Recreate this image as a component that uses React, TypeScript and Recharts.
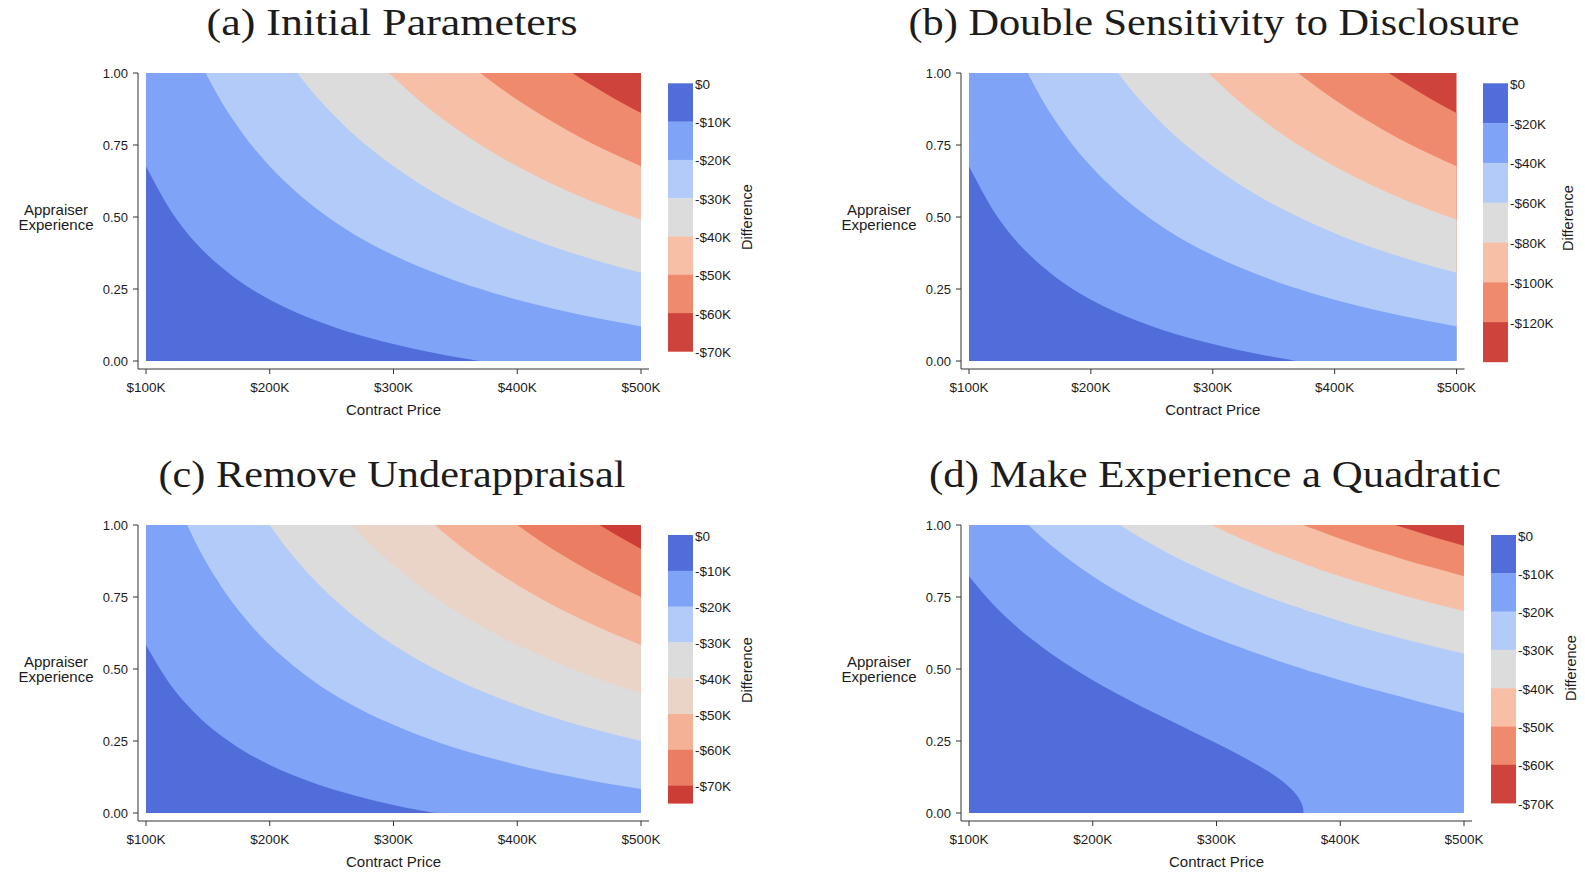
import { Area, AreaChart, XAxis, YAxis } from "recharts";

// contract price grid ($K); extra rows sit where a contour meets the frame
const aPrice = [100, 120, 140, 150, 160, 180, 200, 220, 240, 260, 280, 300, 320, 340, 360, 370, 380, 400, 420, 440, 460, 480, 500];
const cPrice = [100, 120, 130, 140, 160, 180, 200, 220, 240, 260, 270, 280, 300, 320, 330, 340, 360, 380, 400, 420, 440, 460, 480, 500];
const dPrice = [100, 120, 140, 150, 160, 180, 200, 220, 240, 260, 280, 300, 320, 340, 350, 360, 365, 368, 370, 370.4, 380, 400, 420, 440, 460, 480, 500];

// appraiser experience along each contour line (lowest level first).
// values above 1 continue the line just past the top of the frame and get clipped.
const aEdge1 = [0.676, 0.522, 0.411, 0.367, 0.329, 0.264, 0.213, 0.171, 0.136, 0.106, 0.081, 0.059, 0.039, 0.022, 0.007, 0, 0, 0, 0, 0, 0, 0, 0];
const aEdge2 = [1.5, 1.293, 1.073, 0.985, 0.907, 0.779, 0.676, 0.592, 0.522, 0.462, 0.411, 0.367, 0.329, 0.295, 0.264, 0.251, 0.237, 0.213, 0.191, 0.171, 0.153, 0.136, 0.12];
const aEdge3 = [1.5, 1.5, 1.5, 1.5, 1.486, 1.293, 1.139, 1.013, 0.907, 0.818, 0.742, 0.676, 0.618, 0.567, 0.522, 0.501, 0.481, 0.444, 0.411, 0.381, 0.354, 0.329, 0.306];
const aEdge4 = [1.5, 1.5, 1.5, 1.5, 1.5, 1.5, 1.5, 1.434, 1.293, 1.175, 1.073, 0.985, 0.907, 0.839, 0.779, 0.751, 0.725, 0.676, 0.632, 0.592, 0.555, 0.522, 0.491];
const aEdge5 = [1.5, 1.5, 1.5, 1.5, 1.5, 1.5, 1.5, 1.5, 1.5, 1.5, 1.403, 1.293, 1.197, 1.112, 1.036, 1.001, 0.968, 0.907, 0.852, 0.802, 0.756, 0.715, 0.676];
const aEdge6 = [1.5, 1.5, 1.5, 1.5, 1.5, 1.5, 1.5, 1.5, 1.5, 1.5, 1.5, 1.5, 1.486, 1.384, 1.293, 1.252, 1.212, 1.139, 1.073, 1.013, 0.958, 0.907, 0.861];

// panel (b) has the same shapes as (a), only the levels double
const bEdges = [aEdge1, aEdge2, aEdge3, aEdge4, aEdge5, aEdge6];

const cEdge1 = [0.583, 0.444, 0.391, 0.345, 0.271, 0.213, 0.167, 0.129, 0.097, 0.071, 0.059, 0.048, 0.028, 0.01, 0.003, 0, 0, 0, 0, 0, 0, 0, 0, 0];
const cEdge2 = [1.417, 1.139, 1.032, 0.94, 0.792, 0.676, 0.583, 0.508, 0.444, 0.391, 0.367, 0.345, 0.306, 0.271, 0.255, 0.24, 0.213, 0.189, 0.167, 0.147, 0.129, 0.112, 0.097, 0.083];
const cEdge3 = [1.5, 1.5, 1.5, 1.5, 1.313, 1.139, 1.0, 0.886, 0.792, 0.712, 0.676, 0.643, 0.583, 0.531, 0.508, 0.485, 0.444, 0.408, 0.375, 0.345, 0.318, 0.293, 0.271, 0.25];
const cEdge4 = [1.5, 1.5, 1.5, 1.5, 1.5, 1.5, 1.417, 1.265, 1.139, 1.032, 0.985, 0.94, 0.861, 0.792, 0.76, 0.73, 0.676, 0.627, 0.583, 0.544, 0.508, 0.475, 0.444, 0.417];
const cEdge5 = [1.5, 1.5, 1.5, 1.5, 1.5, 1.5, 1.5, 1.5, 1.486, 1.353, 1.293, 1.238, 1.139, 1.052, 1.013, 0.976, 0.907, 0.846, 0.792, 0.742, 0.697, 0.656, 0.618, 0.583];
const cEdge6 = [1.5, 1.5, 1.5, 1.5, 1.5, 1.5, 1.5, 1.5, 1.5, 1.5, 1.5, 1.5, 1.417, 1.313, 1.265, 1.221, 1.139, 1.066, 1.0, 0.94, 0.886, 0.837, 0.792, 0.75];
const cEdge7 = [1.5, 1.5, 1.5, 1.5, 1.5, 1.5, 1.5, 1.5, 1.5, 1.5, 1.5, 1.5, 1.5, 1.5, 1.5, 1.466, 1.37, 1.285, 1.208, 1.139, 1.076, 1.018, 0.965, 0.917];

const dEdge1 = [0.822, 0.722, 0.641, 0.606, 0.573, 0.514, 0.461, 0.413, 0.368, 0.326, 0.284, 0.242, 0.198, 0.149, 0.121, 0.085, 0.061, 0.04, 0.016, 0, 0, 0, 0, 0, 0, 0, 0];
const dEdge2 = [1.266, 1.137, 1.036, 0.992, 0.952, 0.883, 0.822, 0.769, 0.722, 0.68, 0.641, 0.606, 0.574, 0.543, 0.528, 0.514, 0.507, 0.503, 0.501, 0.5, 0.487, 0.461, 0.437, 0.414, 0.391, 0.369, 0.346];
const dEdge3 = [1.5, 1.437, 1.317, 1.266, 1.219, 1.137, 1.067, 1.006, 0.952, 0.904, 0.861, 0.822, 0.786, 0.753, 0.737, 0.722, 0.715, 0.711, 0.708, 0.707, 0.694, 0.666, 0.641, 0.617, 0.595, 0.574, 0.553];
const dEdge4 = [1.5, 1.5, 1.5, 1.49, 1.437, 1.345, 1.266, 1.198, 1.137, 1.084, 1.036, 0.992, 0.952, 0.916, 0.899, 0.883, 0.875, 0.87, 0.867, 0.866, 0.851, 0.822, 0.795, 0.769, 0.745, 0.722, 0.701];
const dEdge5 = [1.5, 1.5, 1.5, 1.5, 1.5, 1.5, 1.437, 1.362, 1.296, 1.237, 1.184, 1.137, 1.094, 1.054, 1.036, 1.018, 1.009, 1.004, 1.001, 1.0, 0.984, 0.952, 0.923, 0.896, 0.869, 0.846, 0.822];
const dEdge6 = [1.5, 1.5, 1.5, 1.5, 1.5, 1.5, 1.5, 1.5, 1.437, 1.374, 1.317, 1.266, 1.219, 1.176, 1.156, 1.137, 1.128, 1.122, 1.119, 1.118, 1.101, 1.067, 1.036, 1.006, 0.979, 0.952, 0.928];

const PRICE_TICKS = [100, 200, 300, 400, 500];
const EXPERIENCE_TICKS = [0, 0.25, 0.5, 0.75, 1];

const LEVELS_10K = ["$0", "-$10K", "-$20K", "-$30K", "-$40K", "-$50K", "-$60K", "-$70K"];
const LEVELS_20K = ["$0", "-$20K", "-$40K", "-$60K", "-$80K", "-$100K", "-$120K"];

// bands from the smallest loss (bottom left) to the largest (top right)
const COLORS_7 = ["#506DD9", "#7FA3F7", "#B2CBF9", "#DCDCDC", "#F6BFA6", "#EF8A6C", "#CE433B"];
const COLORS_8 = ["#506DD9", "#7FA3F7", "#B2CBF9", "#DCDCDC", "#EAD4C7", "#F5B195", "#EB7D62", "#CC3D36"];

const SANS = '"Liberation Sans", Arial, sans-serif';
const SERIF = '"Liberation Serif", "Times New Roman", serif';
const INK = "#1c1c1c";
const AXIS = "#333";
const PLOT_H = 288;
const PAD = 8;

type Panel = {
  id: string;
  title: string;
  titleX: number;
  titleY: number;
  titleWidth: number;
  price: number[];
  edges: number[][];
  colors: string[];
  levels: string[];
  axisX: number;
  plotRight: number;
  top: number;
  labelX: number;
  barX: number;
  barTop: number;
  bins: number[];
  levelX: number;
  diffX: number;
  diffY: number;
};

const PANELS: Panel[] = [
  {
    id: "a",
    title: "(a) Initial Parameters",
    titleX: 392,
    titleY: 35,
    titleWidth: 371,
    price: aPrice,
    edges: [aEdge1, aEdge2, aEdge3, aEdge4, aEdge5, aEdge6],
    colors: COLORS_7,
    levels: LEVELS_10K,
    axisX: 138,
    plotRight: 641,
    top: 73,
    labelX: 56,
    barX: 668,
    barTop: 83.3,
    bins: [38.3, 38.3, 38.3, 38.3, 38.3, 38.3, 38.3],
    levelX: 695,
    diffX: 747,
    diffY: 217,
  },
  {
    id: "b",
    title: "(b) Double Sensitivity to Disclosure",
    titleX: 1214,
    titleY: 35,
    titleWidth: 611,
    price: aPrice,
    edges: bEdges,
    colors: COLORS_7,
    levels: LEVELS_20K,
    axisX: 961,
    plotRight: 1456.5,
    top: 73,
    labelX: 879,
    barX: 1483,
    barTop: 83.3,
    bins: [39.8, 39.8, 39.8, 39.8, 39.8, 39.8, 39.8],
    levelX: 1510,
    diffX: 1568,
    diffY: 218,
  },
  {
    id: "c",
    title: "(c) Remove Underappraisal",
    titleX: 392,
    titleY: 487,
    titleWidth: 467,
    price: cPrice,
    edges: [cEdge1, cEdge2, cEdge3, cEdge4, cEdge5, cEdge6, cEdge7],
    colors: COLORS_8,
    levels: LEVELS_10K,
    axisX: 138,
    plotRight: 641,
    top: 525.3,
    labelX: 56,
    barX: 668,
    barTop: 535,
    bins: [35.8, 35.8, 35.8, 35.8, 35.8, 35.8, 35.8, 17.7],
    levelX: 695,
    diffX: 747,
    diffY: 670,
  },
  {
    id: "d",
    title: "(d) Make Experience a Quadratic",
    titleX: 1215,
    titleY: 487,
    titleWidth: 572,
    price: dPrice,
    edges: [dEdge1, dEdge2, dEdge3, dEdge4, dEdge5, dEdge6],
    colors: COLORS_7,
    levels: LEVELS_10K,
    axisX: 961,
    plotRight: 1464,
    top: 525.3,
    labelX: 879,
    barX: 1491,
    barTop: 535,
    bins: [38.3, 38.3, 38.3, 38.3, 38.3, 38.3, 38.3],
    levelX: 1518,
    diffX: 1571,
    diffY: 668,
  },
];

function ContourChart({ panel }: { panel: Panel }) {
  const { price, edges, colors, axisX, plotRight, top } = panel;
  const rows = price.map((p, i) => {
    const row: Record<string, number> = { price: p, ceiling: 1 };
    edges.forEach((edge, k) => {
      row[`edge${k + 1}`] = edge[i];
    });
    return row;
  });
  const plotW = plotRight + PAD - axisX;
  // paint the top band first, then each lower band over it
  const order = edges.map((_, k) => edges.length - k);
  return (
    <div style={{ position: "absolute", left: axisX - 100, top: top - 20 }}>
      <AreaChart
        width={plotW + 120}
        height={PLOT_H + PAD + 70}
        data={rows}
        margin={{ top: 20, right: 20, bottom: 20, left: 40 }}
      >
        <XAxis
          dataKey="price"
          type="number"
          domain={[100, 500]}
          ticks={PRICE_TICKS}
          padding={{ left: PAD, right: PAD }}
          height={30}
          tickSize={5}
          tickMargin={8}
          tickFormatter={(v: number) => `$${v}K`}
          axisLine={{ stroke: AXIS }}
          tickLine={{ stroke: AXIS }}
          tick={{ fill: INK, fontSize: 13.5, fontFamily: SANS }}
        />
        <YAxis
          type="number"
          domain={[0, 1]}
          allowDataOverflow
          ticks={EXPERIENCE_TICKS}
          padding={{ top: 0, bottom: PAD }}
          width={60}
          tickSize={5}
          tickMargin={5}
          tickFormatter={(v: number) => v.toFixed(2)}
          axisLine={{ stroke: AXIS }}
          tickLine={{ stroke: AXIS }}
          tick={{ fill: INK, fontSize: 13, fontFamily: SANS }}
        />
        <Area
          type="monotone"
          dataKey="ceiling"
          stroke="none"
          fill={colors[edges.length]}
          fillOpacity={1}
          dot={false}
          activeDot={false}
          isAnimationActive={false}
        />
        {order.map((k) => (
          <Area
            key={k}
            type="monotone"
            dataKey={`edge${k}`}
            stroke="none"
            fill={colors[k - 1]}
            fillOpacity={1}
            dot={false}
            activeDot={false}
            isAnimationActive={false}
          />
        ))}
      </AreaChart>
    </div>
  );
}

function Annotations({ panel }: { panel: Panel }) {
  const { top, axisX, plotRight, labelX, barX, barTop, bins, colors, levels, levelX } = panel;
  const bounds = bins.reduce<number[]>((acc, h) => [...acc, acc[acc.length - 1] + h], [barTop]);
  return (
    <g>
      <text
        x={panel.titleX}
        y={panel.titleY}
        textAnchor="middle"
        textLength={panel.titleWidth}
        lengthAdjust="spacingAndGlyphs"
        fontFamily={SERIF}
        fontSize={37}
        fill={INK}
      >
        {panel.title}
      </text>
      <g fontFamily={SANS} fontSize={15} fill={INK} textAnchor="middle">
        <text x={labelX} y={top + 142}>Appraiser</text>
        <text x={labelX} y={top + 157}>Experience</text>
        <text x={(axisX + PAD + plotRight) / 2} y={top + PLOT_H + PAD + 46}>
          Contract Price
        </text>
      </g>
      {bins.map((h, i) => (
        <rect key={i} x={barX} y={bounds[i]} width={25} height={h + 0.3} fill={colors[i]} />
      ))}
      <g fontFamily={SANS} fontSize={13.5} fill={INK}>
        {levels.map((lab, i) => (
          <text key={lab} x={levelX} y={bounds[i] + 1} dominantBaseline="central">
            {lab}
          </text>
        ))}
      </g>
      <text
        x={panel.diffX}
        y={panel.diffY}
        transform={`rotate(-90 ${panel.diffX} ${panel.diffY})`}
        textAnchor="middle"
        dominantBaseline="central"
        fontFamily={SANS}
        fontSize={14.5}
        fill={INK}
      >
        Difference
      </text>
    </g>
  );
}

export default function App() {
  return (
    <div style={{ position: "relative", width: 1585, height: 872, background: "#fff", overflow: "hidden" }}>
      <style>{"body { margin: 0; }"}</style>
      {PANELS.map((p) => (
        <ContourChart key={p.id} panel={p} />
      ))}
      <svg
        width={1585}
        height={872}
        style={{ position: "absolute", left: 0, top: 0, pointerEvents: "none" }}
      >
        {PANELS.map((p) => (
          <Annotations key={p.id} panel={p} />
        ))}
      </svg>
    </div>
  );
}
